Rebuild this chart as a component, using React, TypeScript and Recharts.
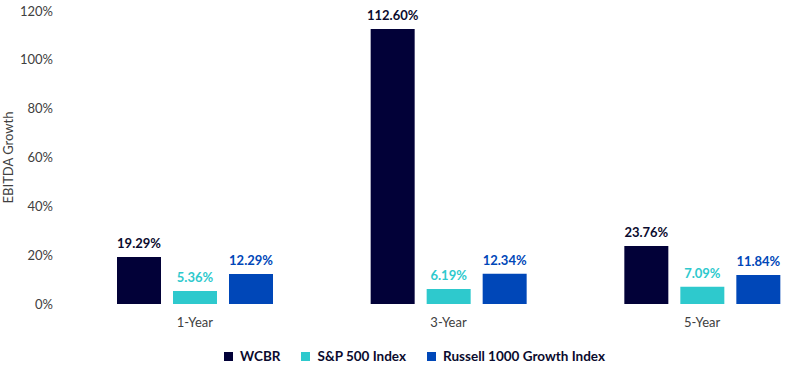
import { BarChart, Bar, XAxis, YAxis, Legend, LabelList } from 'recharts';

const periods = ['1-Year', '3-Year', '5-Year'];
const wcbr = [19.29, 112.6, 23.76];
const sp500 = [5.36, 6.19, 7.09];
const russell = [12.29, 12.34, 11.84];
const yTicks = [0, 20, 40, 60, 80, 100, 120];

const series = [
  { key: 'wcbr', name: 'WCBR', color: '#020138', labelColor: '#0b0b2e' },
  { key: 'sp500', name: 'S&P 500 Index', color: '#2ec9cd', labelColor: '#2ec9cd' },
  { key: 'russell', name: 'Russell 1000 Growth Index', color: '#0047b8', labelColor: '#0047b8' },
];

const data = periods.map((p, i) => ({
  period: p,
  wcbr: wcbr[i],
  sp500: sp500[i],
  russell: russell[i],
}));

const font = 'Lato, "Open Sans", sans-serif';

function LegendRow() {
  return (
    <div style={{ display: 'flex', justifyContent: 'center', alignItems: 'center', gap: 21, height: 20, fontFamily: font }}>
      {series.map((s) => (
        <div key={s.key} style={{ display: 'flex', alignItems: 'center' }}>
          <span style={{ width: 9, height: 9, background: s.color, display: 'inline-block', marginRight: 7 }} />
          <span style={{ fontSize: 13.5, fontWeight: 700, color: '#0b0b2e' }}>{s.name}</span>
        </div>
      ))}
    </div>
  );
}

export default function App() {
  return (
    <div style={{ position: 'absolute', left: 0, top: 0, width: 787, height: 369, overflow: 'hidden', background: '#fff' }}>
      <BarChart
        width={830}
        height={369}
        data={data}
        margin={{ top: 11, right: 1, bottom: 3, left: 0 }}
        barSize={44}
        barGap={12}
      >
        <XAxis
          dataKey="period"
          axisLine={false}
          tickLine={false}
          height={42}
          tickMargin={8}
          tick={{ fontSize: 13, fill: '#404040', fontFamily: font }}
        />
        <YAxis
          width={68}
          domain={[0, 120]}
          ticks={yTicks}
          axisLine={false}
          tickLine={false}
          tickMargin={9}
          tickFormatter={(v) => `${v}%`}
          tick={{ fontSize: 13, fill: '#404040', fontFamily: font }}
          label={{
            content: (props: any) => {
              const vb = props.viewBox || {};
              const cx = 8;
              const cy = vb.y + vb.height / 2;
              return (
                <text
                  x={cx}
                  y={cy}
                  transform={`rotate(-90 ${cx} ${cy})`}
                  textAnchor="middle"
                  dominantBaseline="central"
                  fontSize={13}
                  fill="#404040"
                  fontFamily={font}
                >
                  EBITDA Growth
                </text>
              );
            },
          }}
        />
        <Legend verticalAlign="bottom" content={() => <LegendRow />} />
        {series.map((s) => (
          <Bar key={s.key} dataKey={s.key} name={s.name} fill={s.color} isAnimationActive={false}>
            <LabelList
              dataKey={s.key}
              position="top"
              offset={9}
              formatter={(v: any) => `${Number(v).toFixed(2)}%`}
              style={{ fontSize: 13, fontWeight: 700, fill: s.labelColor, fontFamily: font }}
            />
          </Bar>
        ))}
      </BarChart>
    </div>
  );
}
